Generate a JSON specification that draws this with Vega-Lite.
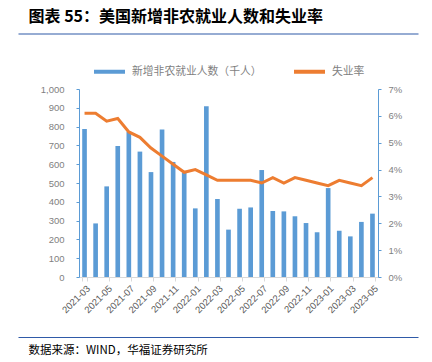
{
  "$schema": "https://vega.github.io/schema/vega-lite/v6.json",
  "width": 400,
  "height": 188,
  "autosize": {"type": "none"},
  "padding": {"left": 18, "top": 89, "right": 14, "bottom": 85},
  "background": "white",
  "config": {"view": {"stroke": null}, "font": "Liberation Sans", "axis": {"grid": false}},
  "data": {"values": [
    {"month": "2021-03", "jobs": 787, "rate": 6.1},
    {"month": "2021-04", "jobs": 285, "rate": 6.1},
    {"month": "2021-05", "jobs": 482, "rate": 5.8},
    {"month": "2021-06", "jobs": 697, "rate": 5.9},
    {"month": "2021-07", "jobs": 772, "rate": 5.4},
    {"month": "2021-08", "jobs": 667, "rate": 5.2},
    {"month": "2021-09", "jobs": 558, "rate": 4.8},
    {"month": "2021-10", "jobs": 785, "rate": 4.5},
    {"month": "2021-11", "jobs": 612, "rate": 4.2},
    {"month": "2021-12", "jobs": 555, "rate": 3.9},
    {"month": "2022-01", "jobs": 365, "rate": 4.0},
    {"month": "2022-02", "jobs": 908, "rate": 3.8},
    {"month": "2022-03", "jobs": 415, "rate": 3.6},
    {"month": "2022-04", "jobs": 252, "rate": 3.6},
    {"month": "2022-05", "jobs": 363, "rate": 3.6},
    {"month": "2022-06", "jobs": 370, "rate": 3.6},
    {"month": "2022-07", "jobs": 569, "rate": 3.5},
    {"month": "2022-08", "jobs": 351, "rate": 3.7},
    {"month": "2022-09", "jobs": 349, "rate": 3.5},
    {"month": "2022-10", "jobs": 323, "rate": 3.7},
    {"month": "2022-11", "jobs": 287, "rate": 3.6},
    {"month": "2022-12", "jobs": 238, "rate": 3.5},
    {"month": "2023-01", "jobs": 473, "rate": 3.4},
    {"month": "2023-02", "jobs": 246, "rate": 3.6},
    {"month": "2023-03", "jobs": 216, "rate": 3.5},
    {"month": "2023-04", "jobs": 293, "rate": 3.4},
    {"month": "2023-05", "jobs": 337, "rate": 3.7}
  ]},
  "layer": [
    {
      "mark": {"type": "bar"},
      "encoding": {
        "x": {
          "field": "month", "type": "ordinal",
          "scale": {"type": "band", "range": [61, 360], "paddingInner": 0.58, "paddingOuter": 0.29},
          "axis": {
            "orient": "bottom", "title": null,
            "values": ["2021-03","2021-05","2021-07","2021-09","2021-11","2022-01","2022-03","2022-05","2022-07","2022-09","2022-11","2023-01","2023-03","2023-05"],
            "tickBand": "extent", "labelAngle": -45, "labelFontSize": 9.5, "labelColor": "#595959",
            "domainColor": "#D9D9D9", "tickColor": "#D9D9D9", "tickSize": 4, "labelPadding": 2
          }
        },
        "y": {
          "field": "jobs", "type": "quantitative",
          "scale": {"domain": [0, 1000]},
          "axis": {
            "orient": "left", "offset": -61, "title": null,
            "values": [0,100,200,300,400,500,600,700,800,900,1000],
            "labelExpr": "format(datum.value, ',')",
            "domainColor": "#5B9BD5", "tickColor": "#5B9BD5", "tickSize": 3,
            "labelPadding": 12, "labelColor": "#7F7F7F", "labelFontSize": 9.5
          }
        },
        "color": {
          "datum": "新增非农就业人数（千人）", "type": "nominal",
          "scale": {"domain": ["新增非农就业人数（千人）", "失业率"], "range": ["#5B9BD5", "#ED7D31"]},
          "legend": {
            "orient": "none", "legendX": 74, "legendY": -35, "direction": "horizontal", "title": null,
            "symbolType": "stroke", "symbolSize": 961, "symbolStrokeWidth": 4,
            "labelFont": "Noto Sans CJK SC", "labelFontSize": 10.8, "labelColor": "#7F7F7F",
            "columnPadding": 24, "labelOffset": 5,
            "encode": {"symbols": {"update": {"stroke": {"scale": "color", "field": "value"}, "fill": {"scale": "color", "field": "value"}}}}
          }
        }
      }
    },
    {
      "mark": {"type": "line", "strokeWidth": 3},
      "encoding": {
        "x": {
          "field": "month", "type": "ordinal",
          "scale": {"type": "band", "range": [61, 360], "paddingInner": 0.58, "paddingOuter": 0.29},
          "axis": null
        },
        "y": {
          "field": "rate", "type": "quantitative",
          "scale": {"domain": [0, 7]},
          "axis": {
            "orient": "right", "offset": -40, "title": null,
            "values": [0,1,2,3,4,5,6,7],
            "labelExpr": "datum.value + '%'",
            "domainColor": "#5B9BD5", "tickColor": "#5B9BD5", "tickSize": 3,
            "labelPadding": 7, "labelColor": "#7F7F7F", "labelFontSize": 9.5
          }
        },
        "color": {"datum": "失业率", "type": "nominal"}
      }
    },
    {
      "mark": {"type": "point", "opacity": 0},
      "encoding": {
        "x": {
          "field": "month", "type": "ordinal",
          "scale": {"type": "band"},
          "axis": {
            "orient": "top", "offset": 55.5, "ticks": false, "labels": false,
            "domainColor": "#2F5AA8", "domainWidth": 1.2,
            "title": "图表 55：美国新增非农就业人数和失业率",
            "titleFont": "Noto Sans CJK SC", "titleFontWeight": "bold", "titleFontSize": 16, "titleColor": "#000000",
            "titleX": 10, "titleY": -17, "titleAlign": "left", "titleBaseline": "middle", "titleAngle": 0
          }
        }
      }
    },
    {
      "mark": {"type": "point", "opacity": 0},
      "encoding": {
        "x": {
          "field": "month", "type": "ordinal",
          "scale": {"type": "band"},
          "axis": {
            "orient": "bottom", "offset": 60, "ticks": false, "labels": false,
            "domainColor": "#2F5AA8", "domainWidth": 1.2,
            "title": "数据来源：WIND，华福证券研究所",
            "titleFont": "Noto Sans CJK SC", "titleFontWeight": "normal", "titleFontSize": 11.5, "titleColor": "#000000",
            "titleX": 10, "titleY": 13, "titleAlign": "left", "titleBaseline": "middle", "titleAngle": 0
          }
        }
      }
    }
  ],
  "resolve": {
    "scale": {"x": "independent", "y": "independent"},
    "axis": {"x": "independent", "y": "independent"}
  }
}
